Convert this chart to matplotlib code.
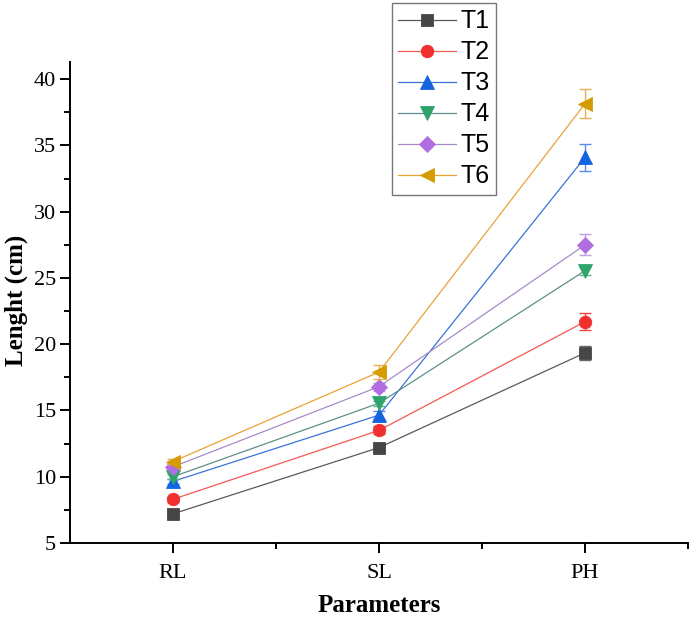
import matplotlib.pyplot as plt
from matplotlib.ticker import MultipleLocator, FixedLocator

categories = ['RL', 'SL', 'PH']
labels = ['T1', 'T2', 'T3', 'T4', 'T5', 'T6']
t1 = [7.2, 12.2, 19.35]
t2 = [8.3, 13.5, 21.7]
t3 = [9.65, 14.65, 34.1]
t4 = [10.0, 15.55, 25.55]
t5 = [10.75, 16.8, 27.5]
t6 = [11.15, 17.9, 38.15]
t1_err = [0.2, 0.2, 0.55]
t2_err = [0.2, 0.3, 0.63]
t3_err = [0.2, 0.3, 1.0]
t4_err = [0.2, 0.2, 0.3]
t5_err = [0.2, 0.3, 0.8]
t6_err = [0.2, 0.5, 1.1]

series = [t1, t2, t3, t4, t5, t6]
errors = [t1_err, t2_err, t3_err, t4_err, t5_err, t6_err]
markers = ['s', 'o', '^', 'v', 'D', '<']
msizes = [8, 9, 9.5, 9.5, 8, 9.5]
face_colors = ['#464646', '#f0302f', '#1464e0', '#2ea46a', '#b06ee0', '#d49c00']
line_colors = ['#5a5a5a', '#f25a50', '#3a72d8', '#5f8f8a', '#a88ac8', '#eaa235']
err_colors = ['#6a6a6a', '#f04040', '#5a8ee6', '#5fb080', '#c0a0e6', '#e8b050']

fig = plt.figure(figsize=(6.9, 6.19), dpi=100)
ax = fig.add_axes([70/690, 1-543/619, (688-70)/690, (543-62)/619])

x = [1, 2, 3]
handles = []
for i in range(6):
    ax.errorbar(x, series[i], yerr=errors[i], fmt='none', ecolor=err_colors[i],
                elinewidth=1.0, capsize=4, capthick=1.0, zorder=2+i)
    h, = ax.plot(x, series[i], color=line_colors[i], lw=0.9, marker=markers[i],
                 ms=msizes[i], mfc=face_colors[i], mec=face_colors[i], mew=0.6,
                 zorder=3+i, label=labels[i])
    handles.append(h)

ax.set_xlim(0.5, 3.5)
ax.set_ylim(5, 41.3)
ax.xaxis.set_major_locator(FixedLocator(x))
ax.set_xticklabels(categories)
ax.xaxis.set_minor_locator(FixedLocator([1.5, 2.5, 3.5]))
ax.yaxis.set_major_locator(MultipleLocator(5))
ax.yaxis.set_minor_locator(MultipleLocator(2.5))

for s in ['top', 'right']:
    ax.spines[s].set_visible(False)
for s in ['left', 'bottom']:
    ax.spines[s].set_linewidth(1.4)

ax.tick_params(which='major', direction='out', length=7, width=1.4,
               labelsize=16, pad=3)
ax.tick_params(which='minor', direction='out', length=4, width=1.4)
for lab in ax.get_xticklabels() + ax.get_yticklabels():
    lab.set_fontfamily('Liberation Serif')
ax.tick_params(axis='x', which='major', pad=8)

fig.text(379/690, 1-606/619, 'Parameters', ha='center', va='center',
         fontfamily='Liberation Serif', fontweight='bold', fontsize=18)
fig.text(16/690, 1-300/619, 'Lenght (cm)', ha='center', va='center',
         rotation=90, fontfamily='Liberation Serif', fontweight='bold',
         fontsize=18)

leg = fig.legend(handles=handles, loc='upper left',
                 bbox_to_anchor=(392/690, 1-3/619), borderaxespad=0,
                 prop={'family': 'Liberation Sans', 'size': 18},
                 frameon=True, fancybox=False, edgecolor='#555555',
                 handlelength=2.3, handletextpad=0.2, labelspacing=0.28,
                 borderpad=0.25)
leg.get_frame().set_linewidth(1.0)

fig.savefig('out.png', dpi=100)
